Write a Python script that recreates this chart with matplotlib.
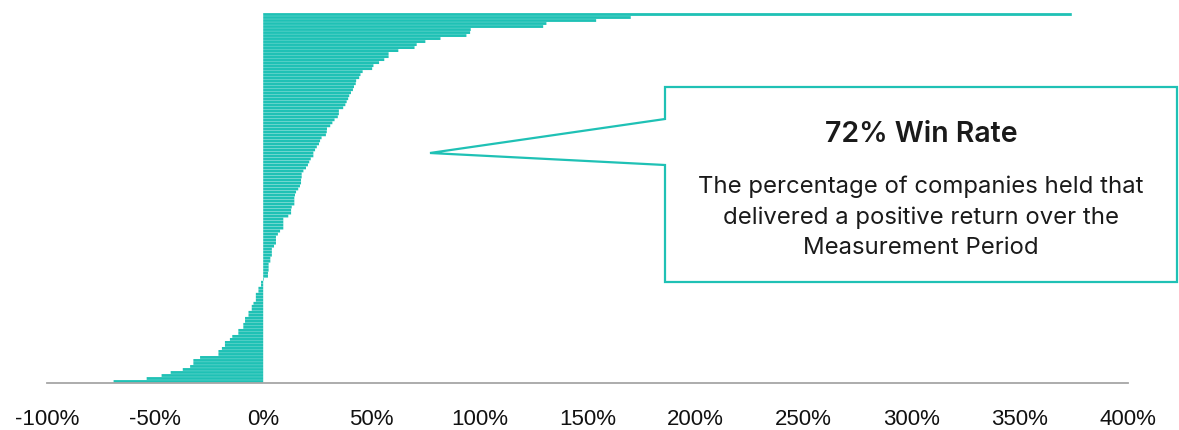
import matplotlib.pyplot as plt
import numpy as np
from matplotlib.patches import Polygon
from matplotlib.ticker import FuncFormatter

TEAL = '#1fc1b5'

# returns per company (%), sorted from best to worst
returns = [374, 170, 154, 131, 129.5, 96, 95.7, 94, 82, 75,
           71, 70, 62.5, 58, 58, 56, 53.6, 51, 50.4, 46,
           45, 44.4, 43, 42.8, 42, 41.5, 40.6, 39.8, 39.3, 38.6,
           38, 37, 35, 35, 34.5, 33, 32, 31, 29.5, 29.4,
           29, 27, 26.3, 25.8, 24.8, 24, 23.2, 23.2, 22, 21.3,
           20.7, 19.8, 18.6, 17.8, 17.8, 17.5, 17.5, 17, 16.2, 15.2,
           14.7, 14.4, 14.4, 14.4, 13.2, 12.9, 12.9, 11.6, 9.3, 9.3,
           9.3, 9.3, 7.8, 6.8, 5.9, 5.9, 5.9, 5, 4, 4,
           4, 3.3, 3.3, 2.5, 2.5, 2.5, 2.2, 2.2, 0.3, -1,
           -1, -2.2, -2.2, -3.4, -3.4, -3.4, -4.5, -5.3, -5.3, -6.8,
           -6.8, -8.4, -8.4, -9.2, -9.2, -11.5, -11.5, -14.3, -15.4, -17.7,
           -17.7, -19.1, -20.7, -20.7, -29.2, -32.3, -32.3, -33.8, -37.2, -42.8,
           -47, -53.9, -69.2]
xticks = [-100, -50, 0, 50, 100, 150, 200, 250, 300, 350, 400]

title = '72% Win Rate'
body = 'The percentage of companies held that\ndelivered a positive return over the\nMeasurement Period'

W, H = 1179, 430
fig = plt.figure(figsize=(W / 100, H / 100), dpi=100)
ax = fig.add_axes([47 / W, 1 - 383 / H, (1128 - 47) / W, (383 - 13) / H])

n = len(returns)
ax.barh(np.arange(n), returns, height=0.93, color=TEAL, linewidth=0, snap=False)
ax.set_ylim(n - 0.5, -0.5)
ax.set_xlim(-100, 400)

ax.set_xticks(xticks)
ax.xaxis.set_major_formatter(FuncFormatter(lambda v, p: '%d%%' % v))
ax.tick_params(axis='x', length=0, pad=19, labelsize=16, labelcolor='#111111')
for lbl in ax.get_xticklabels():
    lbl.set_fontfamily('Liberation Sans')
ax.set_yticks([])
for s in ['top', 'right', 'left']:
    ax.spines[s].set_visible(False)
ax.spines['bottom'].set_color('#a6a6a6')
ax.spines['bottom'].set_linewidth(1.3)


# callout box (figure pixel coords, y measured from top)
def fp(x, y):
    return (x / W, 1 - y / H)


pts = [fp(665, 87), fp(1177, 87), fp(1177, 282), fp(665, 282),
       fp(665, 165), fp(430, 153), fp(665, 119)]
fig.patches.append(Polygon(pts, closed=True, transform=fig.transFigure,
                           facecolor='white', edgecolor=TEAL, linewidth=1.6))

fig.text(921 / W, 1 - 135 / H, title, ha='center', va='center',
         fontsize=20.5, fontweight='semibold', family='Inter', color='#1a1a1a')
fig.text(921 / W, 1 - 217 / H, body, ha='center', va='center',
         fontsize=17.2, family='Inter', color='#1a1a1a', linespacing=1.48)

fig.savefig('out.png', dpi=100)
